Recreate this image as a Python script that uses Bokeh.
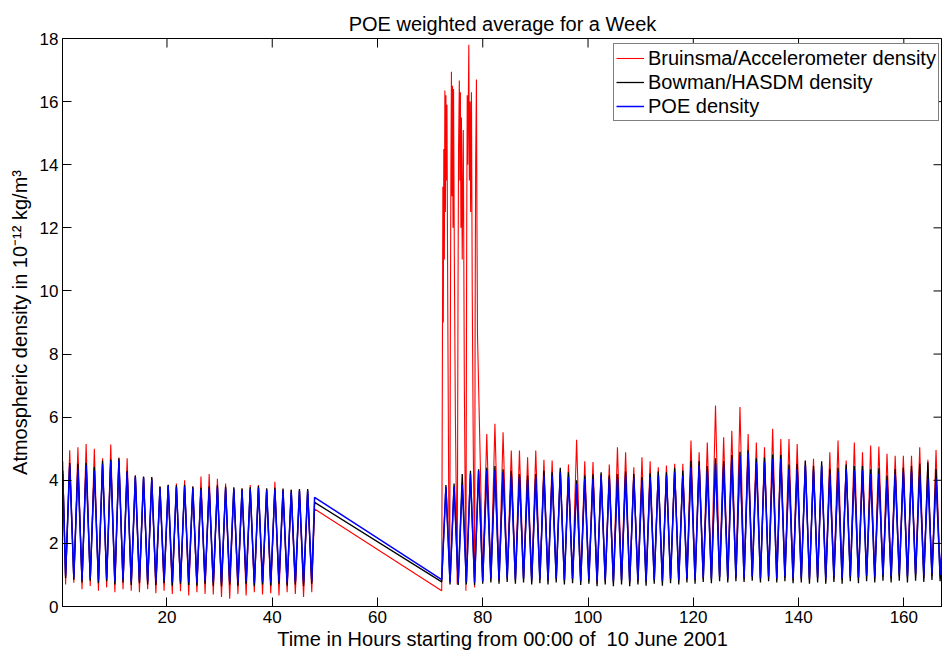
import math
from bokeh.plotting import figure
from bokeh.models import Range1d, FixedTicker, Legend, LegendItem
from bokeh.embed import file_html
from bokeh.resources import INLINE

# ---------------- data (hours since 00:00 10 June 2001, density 1e-12 kg/m^3) ----------------
# segment 1: 0 - 48 h (start, trough, then peak/trough pairs, last sample)
seg1_hours = [0.20, 0.74,
              1.52, 2.30, 3.08, 3.86, 4.64, 5.42, 6.20, 6.98, 7.76, 8.54,
              9.32, 10.10, 10.87, 11.65, 12.43, 13.21, 13.99, 14.77, 15.55, 16.33,
              17.11, 17.89, 18.67, 19.45, 20.23, 21.01, 21.79, 22.57, 23.35, 24.13,
              24.91, 25.69, 26.46, 27.24, 28.02, 28.80, 29.58, 30.36, 31.14, 31.92,
              32.70, 33.48, 34.26, 35.04, 35.82, 36.60, 37.38, 38.16, 38.94, 39.72,
              40.50, 41.28, 42.05, 42.83, 43.61, 44.39, 45.17, 45.95, 46.73, 47.51,
              48.05]
seg1_bruinsma = [4.60, 0.70,
                 4.95, 0.75, 5.05, 0.55, 5.15, 0.65, 5.00, 0.50, 4.70, 0.60,
                 5.13, 0.45, 4.72, 0.55, 4.70, 0.50, 4.15, 0.45, 4.10, 0.55,
                 4.08, 0.42, 3.80, 0.50, 3.85, 0.40, 3.90, 0.48, 4.00, 0.35,
                 3.80, 0.45, 4.12, 0.40, 4.20, 0.38, 4.05, 0.30, 3.90, 0.25,
                 3.74, 0.40, 3.74, 0.35, 3.85, 0.45, 3.85, 0.38, 3.74, 0.42,
                 3.95, 0.35, 3.70, 0.45, 3.70, 0.40, 3.70, 0.30, 3.70, 0.45,
                 3.09]
seg1_bowman = [4.30, 0.90,
               4.55, 0.85, 4.52, 0.76, 4.55, 0.82, 4.42, 0.74, 4.62, 0.80,
               4.66, 0.70, 4.70, 0.76, 4.30, 0.68, 4.15, 0.74, 4.12, 0.70,
               4.10, 0.68, 3.80, 0.74, 3.86, 0.66, 3.84, 0.72, 3.86, 0.68,
               3.80, 0.66, 3.76, 0.72, 3.80, 0.66, 3.84, 0.64, 3.80, 0.70,
               3.78, 0.66, 3.74, 0.72, 3.78, 0.64, 3.82, 0.70, 3.74, 0.66,
               3.76, 0.72, 3.74, 0.66, 3.70, 0.70, 3.72, 0.65, 3.72, 0.72,
               3.30]
seg1_poe = [4.20, 0.98,
            4.50, 0.92, 4.36, 0.85, 4.47, 0.90, 4.30, 0.82, 4.50, 0.88,
            4.60, 0.80, 4.62, 0.85, 4.25, 0.78, 4.10, 0.82, 4.08, 0.80,
            4.02, 0.78, 3.75, 0.82, 3.82, 0.76, 3.78, 0.80, 3.80, 0.78,
            3.74, 0.75, 3.70, 0.80, 3.74, 0.76, 3.78, 0.74, 3.74, 0.78,
            3.72, 0.76, 3.68, 0.80, 3.72, 0.74, 3.76, 0.78, 3.68, 0.76,
            3.70, 0.80, 3.67, 0.76, 3.62, 0.78, 3.66, 0.75, 3.66, 0.80,
            3.46]

# storm period 72 - 80 h
storm_hours = [72.20, 73.00, 73.78, 74.55, 75.33, 76.10, 76.88, 77.66, 78.44, 79.21, 79.99]
storm_bowman = [0.78, 3.85, 0.70, 3.90, 0.68, 4.20, 0.70, 4.30, 0.68, 4.35, 0.72]
storm_poe = [0.85, 3.78, 0.77, 3.80, 0.75, 3.85, 0.78, 4.20, 0.76, 4.30, 0.80]
storm_hours_bruinsma = [72.20, 72.35, 72.42, 72.50, 72.60, 72.70, 72.80, 72.90, 73.00, 73.10,
                        73.20, 73.35, 73.55, 73.72, 73.85, 73.95, 74.05, 74.15, 74.25, 74.35,
                        74.45, 74.60, 74.80, 75.15, 75.30, 75.40, 75.55, 75.65, 75.75, 75.85,
                        75.95, 76.10, 76.30, 76.50, 76.80, 76.95, 77.05, 77.15, 77.35, 77.45,
                        77.60, 77.70, 77.85, 78.00, 78.20, 78.45, 78.55, 78.65, 78.80, 78.90,
                        79.00, 79.55, 79.99]
storm_bruinsma = [0.50, 8.9, 13.3, 9.0, 14.5, 11.0, 16.35, 12.5, 16.2, 13.5,
                  15.9, 9.5, 3.0, 0.85, 9.0, 14.0, 16.95, 13.0, 16.5, 12.0,
                  16.4, 11.0, 6.0, 0.70, 10.0, 14.5, 16.67, 13.5, 16.3, 12.0,
                  15.5, 11.0, 15.1, 7.0, 0.50, 12.0, 16.2, 14.0, 17.8, 13.5,
                  16.0, 12.5, 16.3, 10.0, 5.0, 0.60, 9.0, 14.0, 16.7, 12.0,
                  8.6, 4.4, 0.80]

# segment 2: 80 - 167 h (peak/trough pairs, last sample)
seg2_hours = [80.76, 81.54, 82.31, 83.09, 83.86, 84.64, 85.42, 86.20, 86.97, 87.75,
              88.52, 89.30, 90.07, 90.85, 91.62, 92.40, 93.18, 93.96, 94.73, 95.51,
              96.28, 97.06, 97.83, 98.61, 99.38, 100.16, 100.94, 101.72, 102.49, 103.27,
              104.04, 104.82, 105.59, 106.37, 107.14, 107.92, 108.70, 109.48, 110.25, 111.03,
              111.80, 112.58, 113.35, 114.13, 114.90, 115.68, 116.46, 117.24, 118.01, 118.79,
              119.56, 120.34, 121.11, 121.89, 122.66, 123.44, 124.22, 125.00, 125.77, 126.55,
              127.32, 128.10, 128.87, 129.65, 130.42, 131.20, 131.98, 132.76, 133.53, 134.31,
              135.08, 135.86, 136.63, 137.41, 138.18, 138.96, 139.74, 140.52, 141.29, 142.07,
              142.84, 143.62, 144.39, 145.17, 145.94, 146.72, 147.50, 148.28, 149.05, 149.83,
              150.60, 151.38, 152.15, 152.93, 153.70, 154.48, 155.26, 156.04, 156.81, 157.59,
              158.36, 159.14, 159.91, 160.69, 161.46, 162.24, 163.02, 163.80, 164.57, 165.35,
              166.12, 166.90, 167.30]
seg2_bruinsma = [5.47, 0.85, 5.79, 0.80, 5.52, 0.88, 4.94, 0.82, 4.94, 0.86,
                 4.73, 0.78, 4.94, 0.84, 4.65, 0.80, 4.63, 0.86, 4.36, 0.78,
                 4.50, 0.82, 5.28, 0.76, 4.60, 0.80, 4.58, 0.72, 4.20, 0.78,
                 4.50, 0.74, 5.05, 0.80, 4.89, 0.74, 4.41, 0.78, 4.73, 0.76,
                 4.60, 0.82, 4.41, 0.76, 4.47, 0.84, 4.52, 0.80, 4.52, 0.86,
                 5.26, 0.82, 4.89, 0.88, 5.20, 0.84, 6.37, 0.90, 5.36, 0.84,
                 5.57, 0.90, 6.32, 0.86, 5.47, 0.92, 5.20, 0.84, 5.05, 0.88,
                 5.63, 0.84, 5.31, 0.90, 5.31, 0.82, 5.15, 0.86, 4.63, 0.80,
                 4.68, 0.86, 4.41, 0.80, 4.89, 0.88, 5.26, 0.84, 4.63, 0.90,
                 5.20, 0.86, 4.89, 0.92, 5.10, 0.88, 5.07, 0.94, 4.84, 0.88,
                 4.78, 0.94, 4.78, 0.90, 4.78, 0.96, 5.05, 0.90, 4.65, 0.96,
                 4.96, 0.92, 2.10]
seg2_bowman = [4.40, 0.76, 4.45, 0.72, 4.35, 0.78, 4.30, 0.72, 4.20, 0.76,
               4.15, 0.70, 4.20, 0.74, 4.30, 0.70, 4.25, 0.76, 4.40, 0.70,
               4.25, 0.74, 4.00, 0.68, 4.15, 0.72, 4.18, 0.64, 4.25, 0.70,
               4.15, 0.64, 4.20, 0.70, 4.28, 0.64, 4.20, 0.70, 4.10, 0.66,
               4.22, 0.72, 4.28, 0.66, 4.25, 0.74, 4.40, 0.70, 4.30, 0.76,
               4.62, 0.72, 4.60, 0.78, 4.45, 0.74, 4.70, 0.80, 4.60, 0.76,
               4.80, 0.80, 4.90, 0.78, 4.95, 0.82, 4.70, 0.76, 4.72, 0.80,
               4.82, 0.76, 4.80, 0.80, 4.50, 0.74, 4.52, 0.76, 4.62, 0.72,
               4.45, 0.76, 4.60, 0.72, 4.35, 0.78, 4.40, 0.72, 4.50, 0.80,
               4.45, 0.74, 4.45, 0.80, 4.35, 0.76, 4.38, 0.82, 4.15, 0.76,
               4.35, 0.82, 4.40, 0.76, 4.45, 0.82, 4.52, 0.78, 4.57, 0.84,
               4.36, 0.80, 1.90]
seg2_poe = [4.31, 0.90, 4.31, 0.85, 4.25, 0.92, 4.15, 0.86, 4.10, 0.90,
            4.00, 0.84, 4.10, 0.88, 4.15, 0.85, 4.15, 0.90, 4.25, 0.84,
            4.10, 0.88, 3.89, 0.82, 4.04, 0.86, 4.04, 0.80, 4.15, 0.85,
            4.04, 0.80, 4.04, 0.84, 4.15, 0.80, 4.08, 0.85, 3.99, 0.82,
            4.10, 0.86, 4.15, 0.82, 4.15, 0.88, 4.25, 0.84, 4.15, 0.90,
            4.41, 0.86, 4.47, 0.92, 4.30, 0.88, 4.52, 0.94, 4.47, 0.90,
            4.68, 0.95, 4.78, 0.92, 4.86, 0.96, 4.57, 0.90, 4.57, 0.94,
            4.68, 0.90, 4.68, 0.95, 4.36, 0.90, 4.36, 0.92, 4.47, 0.88,
            4.31, 0.92, 4.47, 0.88, 4.20, 0.94, 4.26, 0.90, 4.36, 0.96,
            4.31, 0.92, 4.31, 0.98, 4.20, 0.94, 4.20, 1.00, 4.00, 0.95,
            4.20, 1.02, 4.25, 0.96, 4.28, 1.02, 4.20, 0.98, 4.05, 1.04,
            4.05, 1.00, 2.00]

x_ticks = [20, 40, 60, 80, 100, 120, 140, 160]
y_ticks = [0, 2, 4, 6, 8, 10, 12, 14, 16, 18]
labels = ["Bruinsma/Accelerometer density", "Bowman/HASDM density", "POE density"]
colors = ["#ff0000", "#000000", "#0000ff"]

X_START, X_END = 0.15, 167.35
Y_START, Y_END = 0, 18


def series(*parts):
    xs, ys = [], []
    for hx, vy in parts:
        n = min(len(hx), len(vy))
        xs += list(hx[:n])
        ys += list(vy[:n])
    return xs, ys


bx, by = series((seg1_hours, seg1_bruinsma), (storm_hours_bruinsma, storm_bruinsma), (seg2_hours, seg2_bruinsma))
kx, ky = series((seg1_hours, seg1_bowman), (storm_hours, storm_bowman), (seg2_hours, seg2_bowman))
px_, py_ = series((seg1_hours, seg1_poe), (storm_hours, storm_poe), (seg2_hours, seg2_poe))

FONT = "Liberation Sans"

p = figure(width=942, height=653, output_backend="svg", toolbar_location=None,
           x_range=Range1d(X_START, X_END), y_range=Range1d(Y_START, Y_END),
           min_border_left=62, min_border_right=0, min_border_top=38, min_border_bottom=47,
           title="POE weighted average for a Week")
p.background_fill_color = "white"
p.border_fill_color = "white"
p.outline_line_color = "black"
p.outline_line_width = 1
p.xgrid.visible = False
p.ygrid.visible = False

p.title.text_font = FONT
p.title.text_font_size = "20px"
p.title.text_font_style = "normal"
p.title.align = "center"
p.title.text_color = "black"
p.title.standoff = 8

for ax, ticks in ((p.xaxis[0], x_ticks), (p.yaxis[0], y_ticks)):
    ax.ticker = FixedTicker(ticks=ticks)
    ax.major_tick_in = 9
    ax.major_tick_out = 0
    ax.minor_tick_line_color = None
    ax.axis_line_color = "black"
    ax.major_tick_line_color = "black"
    ax.major_label_text_font = FONT
    ax.major_label_text_font_size = "17px"
    ax.major_label_text_color = "black"
    ax.axis_label_text_font = FONT
    ax.axis_label_text_font_size = "20px"
    ax.axis_label_text_font_style = "normal"
    ax.axis_label_text_color = "black"

p.xaxis[0].axis_label = "Time in Hours starting from 00:00 of \u00a010 June 2001"
p.xaxis[0].major_label_standoff = 4
p.xaxis[0].axis_label_standoff = 2
p.yaxis[0].axis_label = "Atmospheric density in 10\u207b\u00b9\u00b2 kg/m\u00b3"
p.yaxis[0].major_label_standoff = 4
p.yaxis[0].axis_label_standoff = 6

r_b = p.line(bx, by, line_color=colors[0], line_width=1.1)
r_k = p.line(kx, ky, line_color=colors[1], line_width=1.3)
r_p = p.line(px_, py_, line_color=colors[2], line_width=1.5)

# mirrored tick marks on top and right edges (MATLAB "box on")
p.ray(x=x_ticks, y=[Y_END] * len(x_ticks), length=9, length_units="screen",
      angle=-math.pi / 2, line_color="black", line_width=1)
p.ray(x=[X_END] * len(y_ticks), y=y_ticks, length=9, length_units="screen",
      angle=math.pi, line_color="black", line_width=1)

legend = Legend(items=[LegendItem(label=labels[0], renderers=[r_b]),
                       LegendItem(label=labels[1], renderers=[r_k]),
                       LegendItem(label=labels[2], renderers=[r_p])],
                location=(551, 485), orientation="vertical",
                label_text_font=FONT, label_text_font_size="20px", label_text_color="black",
                glyph_width=28, glyph_height=24, label_height=24, label_standoff=4,
                padding=2, spacing=0, margin=0,
                border_line_color="black", border_line_width=1,
                background_fill_color="white", background_fill_alpha=1.0)
p.add_layout(legend)

open("out.html", "w").write(file_html(p, INLINE))
